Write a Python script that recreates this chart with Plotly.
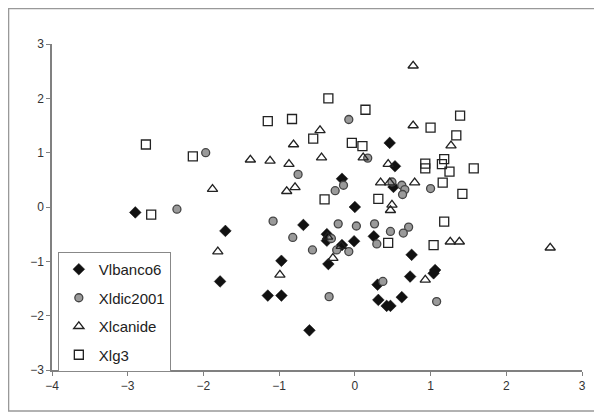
import plotly.graph_objects as go

# ---- data ----
vlbanco6_x = [-2.90, -1.71, -1.78, -0.68, -0.37, -0.37, -0.01, 0.25, -0.17, -0.35, -0.97, -1.15,
              -0.97, -0.60, 0.75, 0.73, 0.30, 0.31, 0.42, 0.47, 0.62, 1.06, 1.04, 0.00, -0.17,
              0.46, 0.53, 0.51]
vlbanco6_y = [-0.10, -0.44, -1.37, -0.33, -0.50, -0.62, -0.63, -0.54, -0.70, -1.05, -0.99, -1.63,
              -1.63, -2.27, -0.88, -1.28, -1.43, -1.71, -1.82, -1.82, -1.66, -1.16, -1.22, 0.00,
              0.52, 1.18, 0.75, 0.37]

xldic2001_x = [-1.97, -2.35, -0.08, 0.17, -0.75, -0.15, -0.26, 0.49, 0.62, 0.66, 0.63, 1.00,
               -1.08, -0.22, 0.02, 0.26, 0.71, 0.64, 0.47, -0.82, -0.31, 0.29, -0.56, -0.24,
               -0.08, 0.37, -0.34, 1.08]
xldic2001_y = [1.00, -0.04, 1.61, 0.90, 0.60, 0.40, 0.30, 0.46, 0.40, 0.32, 0.23, 0.34,
               -0.26, -0.31, -0.35, -0.31, -0.37, -0.48, -0.45, -0.56, -0.58, -0.68, -0.79, -0.79,
               -0.82, -1.37, -1.65, -1.74]

xlcanide_x = [0.77, 0.77, -0.46, -0.81, 1.27, -1.38, -1.12, -0.87, -0.44, 0.11, 0.44, -1.88,
              -0.90, -0.79, 0.34, 0.46, 0.79, 0.49, 0.47, -1.81, -0.36, -0.18, -0.29, -0.99,
              1.26, 1.38, 2.58, 0.93]
xlcanide_y = [2.60, 1.50, 1.41, 1.15, 1.13, 0.87, 0.85, 0.79, 0.91, 0.91, 0.79, 0.33,
              0.29, 0.36, 0.45, 0.45, 0.45, 0.04, -0.06, -0.82, -0.55, -0.72, -0.94, -1.25,
              -0.64, -0.64, -0.75, -1.34]

xlg3_x = [-2.76, -2.14, -2.69, -0.35, 0.14, -1.15, -0.83, -0.55, -0.04, 0.10, 1.39, 1.00,
          1.34, 0.93, 0.93, 1.18, 1.15, 1.25, 1.57, 1.16, 1.42, -0.40, 0.31, 1.18, 1.04, 0.44]
xlg3_y = [1.15, 0.93, -0.14, 2.00, 1.79, 1.58, 1.62, 1.26, 1.18, 1.12, 1.68, 1.46,
          1.32, 0.80, 0.71, 0.88, 0.79, 0.65, 0.71, 0.45, 0.24, 0.14, 0.15, -0.27, -0.70, -0.66]

x_ticks = [-4, -3, -2, -1, 0, 1, 2, 3]
y_ticks = [-3, -2, -1, 0, 1, 2, 3]

fig = go.Figure()
fig.add_trace(go.Scatter(x=vlbanco6_x, y=vlbanco6_y, mode="markers", name="Vlbanco6",
                         legendgroup="a",
                         marker=dict(symbol="diamond", size=9, color="#111111",
                                     line=dict(color="#111111", width=0.5))))
fig.add_trace(go.Scatter(x=xldic2001_x, y=xldic2001_y, mode="markers", name="Xldic2001",
                         legendgroup="b",
                         marker=dict(symbol="circle", size=8, color="#9a9a9a",
                                     line=dict(color="#444444", width=1.3))))
fig.add_trace(go.Scatter(x=xlcanide_x, y=xlcanide_y, mode="markers", name="Xlcanide",
                         legendgroup="c",
                         marker=dict(symbol="triangle-up-open", size=9, color="#222222",
                                     line=dict(color="#222222", width=1.3))))
fig.add_trace(go.Scatter(x=xlg3_x, y=xlg3_y, mode="markers", name="Xlg3",
                         legendgroup="d",
                         marker=dict(symbol="square-open", size=9, color="#222222",
                                     line=dict(color="#222222", width=1.3))))

axis_common = dict(showgrid=False, zeroline=False, showline=True, linecolor="#808080",
                   linewidth=1.5, ticks="outside", ticklen=4, tickcolor="#808080",
                   tickfont=dict(family="Liberation Sans, Arial", size=12, color="#333333"))

fig.update_layout(
    width=602, height=419,
    margin=dict(l=44, r=28, t=36, b=57),
    paper_bgcolor="white", plot_bgcolor="white",
    xaxis=dict(range=[-4, 3], tickvals=x_ticks, **axis_common),
    yaxis=dict(range=[-3, 3], tickvals=y_ticks, **axis_common),
    legend=dict(x=0.011, y=0.362, xanchor="left", yanchor="top",
                bordercolor="#888888", borderwidth=1, bgcolor="white",
                font=dict(family="Liberation Sans, Arial", size=15, color="#222222"),
                traceorder="grouped", tracegroupgap=6, itemwidth=30),
    showlegend=True,
    shapes=[dict(type="rect", xref="paper", yref="paper", x0=-0.082, x1=1.0245,
                 y0=-0.126, y1=1.109, line=dict(color="#999999", width=1.5),
                 fillcolor="rgba(0,0,0,0)", layer="below")],
)

fig.write_html("out.html")
